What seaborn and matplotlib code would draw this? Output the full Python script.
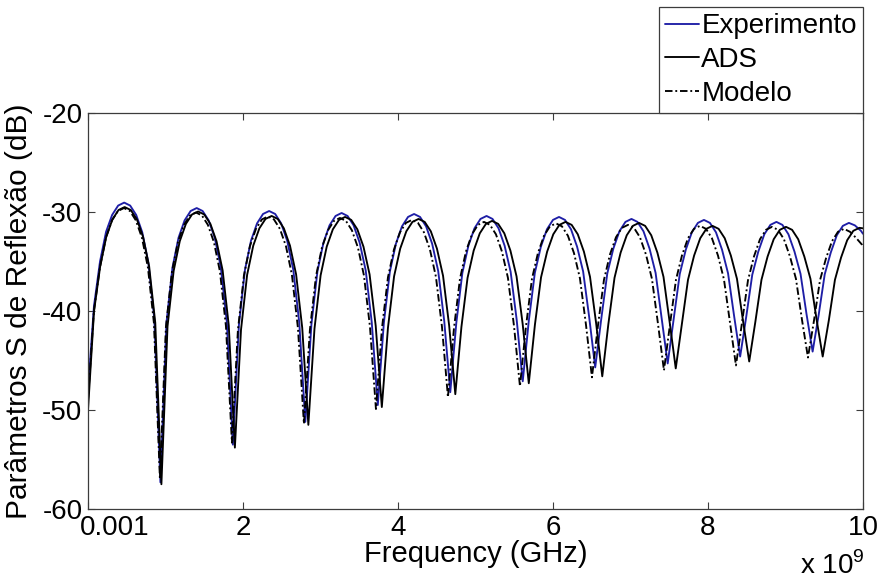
import matplotlib
matplotlib.use("Agg")
import matplotlib.pyplot as plt
from matplotlib.transforms import ScaledTranslation
import pandas as pd
import seaborn as sns

# ---------------------------------------------------------------------------
# Reflection parameter curves (frequency in GHz, magnitude in dB)
# ---------------------------------------------------------------------------
series_names = ["Experimento", "ADS", "Modelo"]

exp_freq_ghz = [
    0.001, 0.078, 0.156, 0.234, 0.312, 0.390, 0.468, 0.545, 0.623, 0.701, 0.779, 0.857,
    0.935, 1.013, 1.091, 1.169, 1.247, 1.325, 1.403, 1.480, 1.558, 1.636, 1.714, 1.792,
    1.870, 1.948, 2.026, 2.104, 2.182, 2.259, 2.338, 2.416, 2.493, 2.571, 2.649, 2.727,
    2.805, 2.883, 2.961, 3.039, 3.117, 3.195, 3.273, 3.350, 3.428, 3.506, 3.584, 3.662,
    3.740, 3.818, 3.896, 3.974, 4.052, 4.130, 4.208, 4.285, 4.363, 4.441, 4.519, 4.597,
    4.675, 4.753, 4.831, 4.909, 4.987, 5.065, 5.143, 5.220, 5.298, 5.376, 5.454, 5.532,
    5.610, 5.688, 5.766, 5.844, 5.922, 6.000, 6.078, 6.155, 6.233, 6.311, 6.389, 6.467,
    6.545, 6.623, 6.701, 6.779, 6.857, 6.935, 7.013, 7.090, 7.168, 7.246, 7.324, 7.402,
    7.480, 7.558, 7.636, 7.714, 7.792, 7.870, 7.948, 8.025, 8.103, 8.181, 8.259, 8.337,
    8.415, 8.493, 8.571, 8.649, 8.727, 8.805, 8.883, 8.960, 9.038, 9.116, 9.194, 9.272,
    9.350, 9.428, 9.506, 9.584, 9.662, 9.740, 9.818, 9.895, 9.973, 10.000,
]
exp_db = [
    -48.0, -39.5, -35.0, -32.0, -30.3, -29.35, -29.05, -29.35, -30.3, -32.05, -35.1, -40.8,
    -57.3, -41.2, -35.6, -32.6, -30.85, -29.9, -29.6, -29.9, -30.85, -32.6, -35.55, -41.1,
    -53.5, -41.4, -35.85, -32.9, -31.15, -30.2, -29.9, -30.2, -31.15, -32.9, -35.8, -41.2,
    -51.2, -41.4, -36.0, -33.1, -31.35, -30.4, -30.1, -30.4, -31.35, -33.1, -35.9, -41.15,
    -49.5, -41.2, -36.0, -33.2, -31.45, -30.5, -30.2, -30.5, -31.45, -33.2, -35.95, -41.0,
    -48.2, -41.2, -36.15, -33.4, -31.65, -30.7, -30.4, -30.7, -31.65, -33.4, -36.05, -40.9,
    -47.1, -41.0, -36.15, -33.5, -31.75, -30.8, -30.5, -30.8, -31.75, -33.5, -36.0, -40.6,
    -45.7, -40.8, -36.2, -33.7, -31.95, -31.0, -30.7, -31.0, -31.95, -33.7, -36.15, -40.7,
    -45.3, -40.8, -36.25, -33.8, -32.05, -31.1, -30.8, -31.1, -32.05, -33.8, -36.2, -40.5,
    -44.6, -40.6, -36.35, -34.0, -32.25, -31.3, -31.0, -31.3, -32.25, -34.0, -36.25, -40.35,
    -44.1, -40.4, -36.3, -34.1, -32.35, -31.4, -31.1, -31.35, -31.9, -32.2,
]

ads_freq_ghz = [
    0.001, 0.079, 0.158, 0.237, 0.316, 0.395, 0.474, 0.553, 0.632, 0.711, 0.790, 0.869,
    0.948, 1.027, 1.106, 1.185, 1.264, 1.343, 1.422, 1.501, 1.580, 1.659, 1.738, 1.817,
    1.896, 1.975, 2.054, 2.133, 2.212, 2.291, 2.370, 2.449, 2.528, 2.607, 2.686, 2.765,
    2.844, 2.923, 3.002, 3.081, 3.160, 3.239, 3.318, 3.397, 3.476, 3.555, 3.634, 3.713,
    3.792, 3.871, 3.950, 4.029, 4.108, 4.187, 4.266, 4.345, 4.424, 4.503, 4.582, 4.661,
    4.740, 4.819, 4.898, 4.977, 5.056, 5.135, 5.214, 5.293, 5.372, 5.451, 5.530, 5.609,
    5.688, 5.767, 5.846, 5.925, 6.004, 6.083, 6.162, 6.241, 6.320, 6.399, 6.478, 6.557,
    6.636, 6.715, 6.794, 6.873, 6.952, 7.031, 7.110, 7.189, 7.268, 7.347, 7.426, 7.505,
    7.584, 7.663, 7.742, 7.821, 7.900, 7.979, 8.058, 8.137, 8.216, 8.295, 8.374, 8.453,
    8.532, 8.611, 8.690, 8.769, 8.848, 8.927, 9.006, 9.085, 9.164, 9.243, 9.322, 9.401,
    9.480, 9.559, 9.638, 9.717, 9.796, 9.875, 9.954, 10.000,
]
ads_db = [
    -50.0, -40.0, -35.5, -32.5, -30.75, -29.8, -29.5, -29.8, -30.75, -32.5, -35.5, -41.2,
    -57.5, -41.55, -35.95, -32.95, -31.2, -30.25, -29.95, -30.25, -31.2, -32.95, -35.9, -41.45,
    -53.8, -41.9, -36.35, -33.4, -31.65, -30.7, -30.4, -30.7, -31.65, -33.4, -36.3, -41.7,
    -51.5, -41.8, -36.4, -33.5, -31.75, -30.8, -30.5, -30.8, -31.75, -33.5, -36.3, -41.5,
    -49.7, -41.7, -36.5, -33.7, -31.95, -31.0, -30.7, -31.0, -31.95, -33.7, -36.45, -41.5,
    -48.4, -41.6, -36.65, -33.9, -32.15, -31.2, -30.9, -31.2, -32.15, -33.9, -36.5, -41.3,
    -47.3, -41.4, -36.6, -34.0, -32.25, -31.3, -31.0, -31.3, -32.25, -34.0, -36.55, -41.25,
    -46.6, -41.3, -36.65, -34.1, -32.35, -31.4, -31.1, -31.4, -32.35, -34.1, -36.55, -41.1,
    -45.8, -41.3, -36.85, -34.4, -32.65, -31.7, -31.4, -31.7, -32.65, -34.4, -36.75, -41.05,
    -45.1, -41.1, -36.85, -34.5, -32.75, -31.8, -31.5, -31.8, -32.75, -34.5, -36.75, -40.85,
    -44.6, -40.95, -36.85, -34.6, -32.85, -31.9, -31.6, -31.65,
]

mod_freq_ghz = [
    0.001, 0.077, 0.155, 0.232, 0.310, 0.387, 0.465, 0.542, 0.619, 0.697, 0.774, 0.852,
    0.929, 1.006, 1.084, 1.161, 1.239, 1.316, 1.394, 1.471, 1.548, 1.626, 1.703, 1.781,
    1.858, 1.935, 2.013, 2.090, 2.168, 2.245, 2.323, 2.400, 2.477, 2.555, 2.632, 2.710,
    2.787, 2.864, 2.942, 3.019, 3.097, 3.174, 3.252, 3.329, 3.406, 3.484, 3.561, 3.639,
    3.716, 3.793, 3.871, 3.948, 4.026, 4.103, 4.181, 4.258, 4.335, 4.413, 4.490, 4.568,
    4.645, 4.722, 4.800, 4.877, 4.955, 5.032, 5.110, 5.187, 5.264, 5.342, 5.419, 5.497,
    5.574, 5.651, 5.729, 5.806, 5.884, 5.961, 6.039, 6.116, 6.193, 6.271, 6.348, 6.426,
    6.503, 6.580, 6.658, 6.735, 6.813, 6.890, 6.968, 7.045, 7.122, 7.200, 7.277, 7.355,
    7.432, 7.509, 7.587, 7.664, 7.742, 7.819, 7.897, 7.974, 8.051, 8.129, 8.206, 8.284,
    8.361, 8.438, 8.516, 8.593, 8.671, 8.748, 8.826, 8.903, 8.980, 9.058, 9.135, 9.213,
    9.290, 9.367, 9.445, 9.522, 9.600, 9.677, 9.755, 9.832, 9.909, 9.987, 10.000,
]
mod_db = [
    -49.0, -40.0, -35.6, -32.6, -30.85, -29.9, -29.6, -29.9, -30.85, -32.6, -35.6, -41.25,
    -57.0, -41.65, -36.05, -33.05, -31.3, -30.35, -30.05, -30.35, -31.3, -33.05, -36.0, -41.55,
    -53.3, -41.95, -36.4, -33.45, -31.7, -30.75, -30.45, -30.75, -31.7, -33.45, -36.35, -41.75,
    -51.4, -41.9, -36.5, -33.6, -31.85, -30.9, -30.6, -30.9, -31.85, -33.6, -36.4, -41.6,
    -49.9, -41.8, -36.6, -33.8, -32.05, -31.1, -30.8, -31.1, -32.05, -33.8, -36.55, -41.6,
    -48.7, -41.8, -36.75, -34.0, -32.25, -31.3, -31.0, -31.3, -32.25, -34.0, -36.65, -41.5,
    -47.6, -41.6, -36.75, -34.15, -32.4, -31.45, -31.15, -31.45, -32.4, -34.15, -36.7, -41.4,
    -46.7, -41.5, -36.85, -34.3, -32.55, -31.6, -31.3, -31.6, -32.55, -34.3, -36.75, -41.3,
    -46.0, -41.4, -36.85, -34.4, -32.65, -31.7, -31.4, -31.7, -32.65, -34.4, -36.8, -41.2,
    -45.5, -41.25, -36.9, -34.5, -32.75, -31.8, -31.5, -31.8, -32.75, -34.5, -36.75, -40.9,
    -44.7, -41.0, -36.9, -34.7, -32.95, -32.0, -31.7, -32.0, -32.6, -33.3, -33.5,
]

x_ticks = [0.001, 2, 4, 6, 8, 10]
x_tick_labels = ["0.001", "2", "4", "6", "8", "10"]
y_ticks = [-60, -50, -40, -30, -20]

# ---------------------------------------------------------------------------
# Styling
# ---------------------------------------------------------------------------
sns.set_theme(style="white")
plt.rcParams["font.family"] = ["Liberation Sans", "DejaVu Sans"]
plt.rcParams["mathtext.fontset"] = "custom"
plt.rcParams["mathtext.rm"] = "Liberation Sans"
plt.rcParams["text.color"] = "black"
plt.rcParams["axes.labelcolor"] = "black"
plt.rcParams["xtick.color"] = "black"
plt.rcParams["ytick.color"] = "black"

FS = 20
EDGE = "#3c3c3c"
line_styles = {
    "Experimento": dict(color="#1e1ea6", linestyle="-"),
    "ADS": dict(color="black", linestyle="-"),
    "Modelo": dict(color="black", linestyle=(0, (4, 1.5, 1, 1.5))),
}

curves = {
    "Experimento": (exp_freq_ghz, exp_db),
    "ADS": (ads_freq_ghz, ads_db),
    "Modelo": (mod_freq_ghz, mod_db),
}

fig = plt.figure(figsize=(8.8, 5.8), dpi=100)
fig.patch.set_facecolor("white")
ax = fig.add_axes([88 / 880, 1 - 509 / 580, 775 / 880, 396 / 580])
ax.set_facecolor("white")

for name in series_names:
    freq, db = curves[name]
    frame = pd.DataFrame({"Frequency": freq, "S11": db})
    sns.lineplot(data=frame, x="Frequency", y="S11", ax=ax, sort=False,
                 estimator=None, linewidth=1.35, label=name,
                 **line_styles[name])

ax.set_xlim(0.001, 10)
ax.set_ylim(-60, -20)
ax.set_xticks(x_ticks)
ax.set_xticklabels(x_tick_labels)
ax.set_yticks(y_ticks)
ax.set_yticklabels([str(v) for v in y_ticks])

for side in ["left", "right", "top", "bottom"]:
    ax.spines[side].set_visible(True)
    ax.spines[side].set_color(EDGE)
    ax.spines[side].set_linewidth(0.9)

ax.tick_params(axis="both", which="both", direction="in", length=5, width=0.8,
               color=EDGE, labelcolor="black", labelsize=FS,
               top=True, right=True, bottom=True, left=True,
               labeltop=False, labelright=False)
ax.tick_params(axis="y", pad=4)
ax.tick_params(axis="x", pad=4)

# the first frequency label sits to the right of its tick
first = ax.xaxis.get_major_ticks()[0].label1
first.set_horizontalalignment("left")
first.set_transform(first.get_transform()
                    + ScaledTranslation(-8 / 100, 0, fig.dpi_scale_trans))

ax.set_xlabel("Frequency (GHz)", fontsize=21, color="black")
ax.set_ylabel("Parâmetros S de Reflexão (dB)", fontsize=21.5, color="black")
ax.xaxis.set_label_coords(0.5, -0.078)
ax.yaxis.set_label_coords(-0.071, 0.5)

fig.text(800 / 880, 1 - 574 / 580, "x 10$^{9}$", fontsize=FS, ha="left",
         va="baseline", color="black")

handles, labels = ax.get_legend_handles_labels()
leg = ax.legend(handles, labels, loc="lower right", bbox_to_anchor=(1.0, 1.0),
                borderaxespad=0, frameon=True, fancybox=False, framealpha=1,
                edgecolor=EDGE, fontsize=FS, handlelength=1.2,
                handletextpad=0.1, labelspacing=0.28, borderpad=0.22)
leg.get_frame().set_linewidth(0.9)
for txt in leg.get_texts():
    txt.set_color("black")

fig.savefig("out.png", dpi=100)
